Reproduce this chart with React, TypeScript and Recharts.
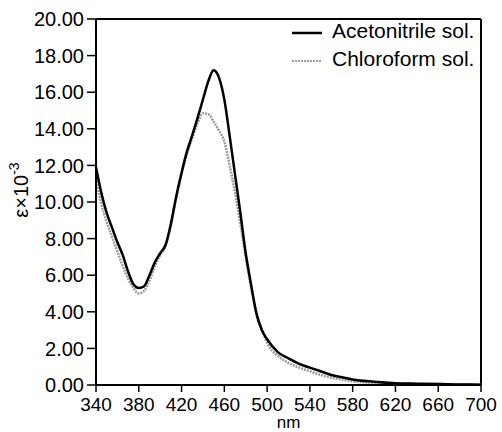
import React from "react";
import {
  LineChart,
  Line,
  XAxis,
  YAxis,
  Legend,
  ReferenceLine,
} from "recharts";

// wavelength (nm) and molar absorptivity (x10^-3)
const wavelengths = [
  340, 345, 350, 355, 360, 365, 370, 375, 380, 385, 390, 395, 400, 405, 410,
  415, 420, 425, 430, 435, 440, 445, 450, 455, 460, 465, 470, 475, 480, 485,
  490, 495, 500, 510, 520, 530, 540, 550, 560, 570, 580, 600, 620, 640, 660,
  680, 700,
];

const acetonitrile = [
  11.9, 10.5, 9.4, 8.6, 7.8, 7.1, 6.2, 5.5, 5.3, 5.4, 6.0, 6.7, 7.2, 7.65, 8.8,
  10.3, 11.6, 12.75, 13.65, 14.6, 15.6, 16.6, 17.2, 16.8, 15.6, 13.6, 11.5, 9.4,
  7.2, 5.5, 3.9, 3.0, 2.5, 1.8, 1.45, 1.15, 0.95, 0.75, 0.55, 0.42, 0.3, 0.18,
  0.1, 0.07, 0.05, 0.03, 0.02,
];

const chloroform = [
  11.3, 9.9, 8.9, 8.1, 7.3, 6.5, 5.8, 5.3, 5.0, 5.15, 5.7, 6.5, 7.1, 7.6, 8.7,
  10.2, 11.5, 12.6, 13.5, 14.3, 14.85, 14.8, 14.4, 13.9, 13.3, 12.0, 10.5, 8.8,
  7.0, 5.3, 4.0, 3.1, 2.3, 1.6, 1.2, 0.95, 0.75, 0.55, 0.4, 0.3, 0.2, 0.12,
  0.08, 0.06, 0.05, 0.04, 0.03,
];

const xTicks = [340, 380, 420, 460, 500, 540, 580, 620, 660, 700];
const yTicks = [0, 2, 4, 6, 8, 10, 12, 14, 16, 18, 20];

const seriesNames = ["Acetonitrile sol.", "Chloroform sol."];

const chartData = wavelengths.map((nm, i) => ({
  nm,
  aceto: acetonitrile[i],
  chloro: chloroform[i],
}));

const FONT = '"Liberation Sans", Arial, sans-serif';
const GREY = "#9c9c9c";

function YLabel(props: any) {
  return (
    <text
      x={0}
      y={0}
      transform="translate(28, 190) rotate(-90)"
      textAnchor="middle"
      fontFamily={FONT}
      fontSize={20}
      fill="#000"
    >
      {"\u03B5\u00D710"}
      <tspan dy={-9} fontSize={14}>
        -3
      </tspan>
    </text>
  );
}

function LegendBox() {
  return (
    <svg width={200} height={60} style={{ overflow: "visible" }}>
      <line x1={4} x2={34} y1={15} y2={15} stroke="#000" strokeWidth={2.5} />
      <text x={44} y={20} fontFamily={FONT} fontSize={21} fill="#000">
        {seriesNames[0]}
      </text>
      <line
        x1={4}
        x2={34}
        y1={43}
        y2={43}
        stroke={GREY}
        strokeWidth={2}
        strokeDasharray="2 1"
      />
      <text x={44} y={48} fontFamily={FONT} fontSize={21} fill="#000">
        {seriesNames[1]}
      </text>
    </svg>
  );
}

export default function App() {
  return (
    <div style={{ position: "absolute", left: 0, top: 0, background: "#fff" }}>
      <LineChart
        width={502}
        height={432}
        data={chartData}
        margin={{ top: 19, right: 21, left: 0, bottom: 0 }}
      >
        <XAxis
          dataKey="nm"
          type="number"
          domain={[340, 700]}
          ticks={xTicks}
          height={47}
          tickSize={7}
          tickMargin={6}
          interval={0}
          axisLine={{ stroke: "#000", strokeWidth: 2 }}
          tickLine={{ stroke: "#000", strokeWidth: 1.5 }}
          tick={{ fontSize: 19, fill: "#000", fontFamily: FONT }}
          label={{
            value: "nm",
            position: "insideBottom",
            offset: 4,
            style: { fontSize: 17, fill: "#000", fontFamily: FONT },
          }}
        />
        <YAxis
          type="number"
          domain={[0, 20]}
          ticks={yTicks}
          width={96}
          tickSize={9}
          tickMargin={3}
          interval={0}
          tickFormatter={(v: number) => v.toFixed(2)}
          axisLine={{ stroke: "#000", strokeWidth: 2 }}
          tickLine={{ stroke: "#000", strokeWidth: 1.5 }}
          tick={{ fontSize: 20, fill: "#000", fontFamily: FONT }}
          label={<YLabel />}
        />
        <ReferenceLine y={20} stroke="#000" strokeWidth={2} />
        <ReferenceLine x={700} stroke="#000" strokeWidth={2} />
        <Legend
          layout="vertical"
          align="center"
          verticalAlign="middle"
          wrapperStyle={{ left: 288, top: 18, width: 200 }}
          content={() => <LegendBox />}
        />
        <Line
          type="monotone"
          dataKey="chloro"
          name={seriesNames[1]}
          stroke={GREY}
          strokeWidth={2.5}
          strokeDasharray="2 1"
          dot={false}
          isAnimationActive={false}
        />
        <Line
          type="monotone"
          dataKey="aceto"
          name={seriesNames[0]}
          stroke="#000"
          strokeWidth={2.5}
          dot={false}
          isAnimationActive={false}
        />
      </LineChart>
    </div>
  );
}
